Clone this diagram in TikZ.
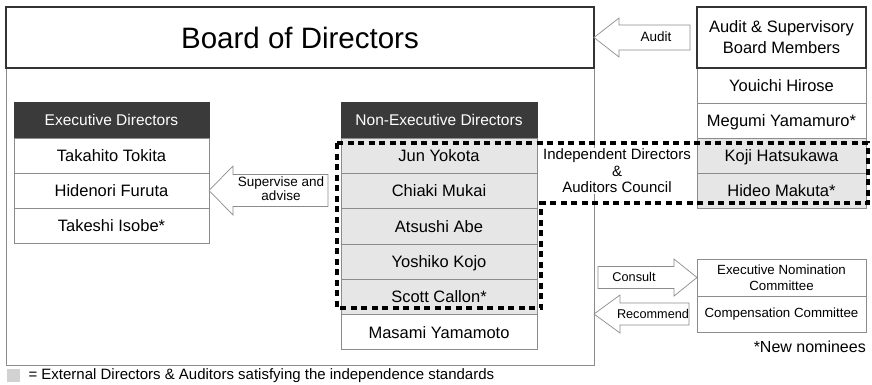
\documentclass[tikz,border=0pt]{standalone}
\usepackage{fontspec}
\setmainfont{Liberation Sans}
\usetikzlibrary{positioning}

\definecolor{headgray}{HTML}{3A3A3A}
\definecolor{indepgray}{HTML}{E6E6E6}
\definecolor{linegray}{HTML}{8C8C8C}
\definecolor{keygray}{HTML}{D2D2D2}

\tikzset{
  cell/.style={draw=linegray, line width=0.8pt, fill=white, minimum height=35pt,
    inner sep=0pt, outer sep=0pt, font=\fontsize{16.5}{19}\selectfont},
  namecell/.style={cell, text height=11.8pt, text depth=0pt},
  indep/.style={namecell, fill=indepgray},
  header/.style={namecell, fill=headgray, draw=headgray, text=white, minimum height=36pt,
    text height=11pt, font=\fontsize{15.5}{18}\selectfont},
  boldbox/.style={draw=black!80, line width=1.5pt, fill=white, inner sep=0pt, outer sep=0pt},
  blockarrow/.style={draw=linegray, line width=0.7pt, fill=white, line join=miter},
  councilline/.style={line width=3.2pt, dash pattern=on 6pt off 4.5pt},
  small/.style={font=\fontsize{13.5}{14}\selectfont}
}

% block arrow: tip, direction (1 = points left), length, head length, head half, body half
\newcommand{\barrow}[6]{%
  \draw[blockarrow] (#1) -- ++({#2*#4},-#5) -- ++(0,{#5-#6}) -- ++({#2*(#3-#4)},0)
    -- ++(0,{2*#6}) -- ++({-#2*(#3-#4)},0) -- ++(0,{#5-#6}) -- cycle;}

\begin{document}
\begin{tikzpicture}[x=1pt, y=-1pt]
  \useasboundingbox (0,0) rectangle (872,384);

  % Board frame and title
  \node[draw=linegray, line width=0.8pt, minimum width=588pt, minimum height=358pt,
    inner sep=0pt, outer sep=0pt] (frame) at (300,186) {};
  \node[boldbox, minimum width=588pt, minimum height=61pt, text height=21pt, text depth=0pt,
    font=\fontsize{29.5}{32}\selectfont] (board) at (300,37.5) {Board of Directors};

  % Executive directors
  \node[header, minimum width=195pt] (exec) at (111.5,120) {Executive Directors};
  \node[namecell, minimum width=195pt, below=0pt of exec] (takahito) {Takahito Tokita};
  \node[namecell, minimum width=195pt, below=0pt of takahito] (hidenori) {Hidenori Furuta};
  \node[namecell, minimum width=195pt, below=0pt of hidenori] (takeshi) {Takeshi Isobe*};

  % Non-executive directors
  \node[header, minimum width=196pt] (nonexec) at (439,120) {Non-Executive Directors};
  \node[indep, minimum width=196pt, minimum height=35.3pt, below=0pt of nonexec] (jun) {Jun Yokota};
  \node[indep, minimum width=196pt, minimum height=35.3pt, below=0pt of jun] (chiaki) {Chiaki Mukai};
  \node[indep, minimum width=196pt, minimum height=35.3pt, below=0pt of chiaki] (atsushi) {Atsushi Abe};
  \node[indep, minimum width=196pt, minimum height=35.3pt, below=0pt of atsushi] (yoshiko) {Yoshiko Kojo};
  \node[indep, minimum width=196pt, minimum height=35.3pt, below=0pt of yoshiko] (scott) {Scott Callon*};
  \node[namecell, minimum width=196pt, minimum height=35.3pt, below=0pt of scott] (masami) {Masami Yamamoto};

  % Audit & supervisory board
  \node[boldbox, minimum width=169pt, minimum height=61pt, align=center,
    font=\fontsize{16.5}{21}\selectfont] (audit) at (781.5,37.5) {Audit \& Supervisory\\Board Members};
  \node[namecell, minimum width=169pt, below=0pt of audit] (youichi) {Youichi Hirose};
  \node[namecell, minimum width=169pt, below=0pt of youichi] (megumi) {Megumi Yamamuro*};
  \node[indep, minimum width=169pt, below=0pt of megumi] (koji) {Koji Hatsukawa};
  \node[indep, minimum width=169pt, below=0pt of koji] (hideo) {Hideo Makuta*};
  \draw[line width=1.5pt, black!80] (audit.north west) rectangle (audit.south east);

  % Committees
  \node[cell, minimum width=169pt, minimum height=37pt, align=center,
    font=\fontsize{13.3}{16}\selectfont] (nomination) at (781.5,277.5) {Executive Nomination\\Committee};
  \node[cell, minimum width=169pt, minimum height=36pt, font=\fontsize{13.3}{16}\selectfont,
    below=0pt of nomination] (compensation) {Compensation Committee};

  % Council
  \node[fill=white, inner sep=1pt, align=center, font=\fontsize{15}{16.5}\selectfont]
    (council) at (617,171) {Independent Directors\\\&\\Auditors Council};
  \draw[councilline] (337,143) -- (868,143) -- (868,203) -- (541,203) -- (541,308) -- (337,308) -- cycle;

  % Block arrows
  \barrow{board.east}{1}{96}{25}{19.5}{12.5}
  \node[small] (auditlbl) at (656,37) {Audit};

  \barrow{hidenori.east}{1}{119}{24}{24.5}{16}
  \node[small, align=center] (supervise) at (281,189) {Supervise and\\advise};

  \barrow{nomination.west}{-1}{99}{23}{18.5}{11}
  \node[font=\fontsize{12.7}{14}\selectfont] (consult) at (634,277) {Consult};

  \barrow{frame.east |- compensation.west}{1}{95}{26}{19}{11}
  \node[font=\fontsize{12.7}{14}\selectfont] (recommend) at (653,314) {Recommend};

  \node[anchor=east, inner sep=0pt, font=\fontsize{16}{18}\selectfont] (nominees) at (866,347) {*New nominees};

  % Legend
  \node[fill=keygray, minimum size=13pt, inner sep=0pt, outer sep=0pt] (key) at (13.5,375.5) {};
  \node[anchor=west, font=\fontsize{15}{18}\selectfont] (keytext) at (25,376)
    {= External Directors \& Auditors satisfying the independence standards};

\end{tikzpicture}
\end{document}
